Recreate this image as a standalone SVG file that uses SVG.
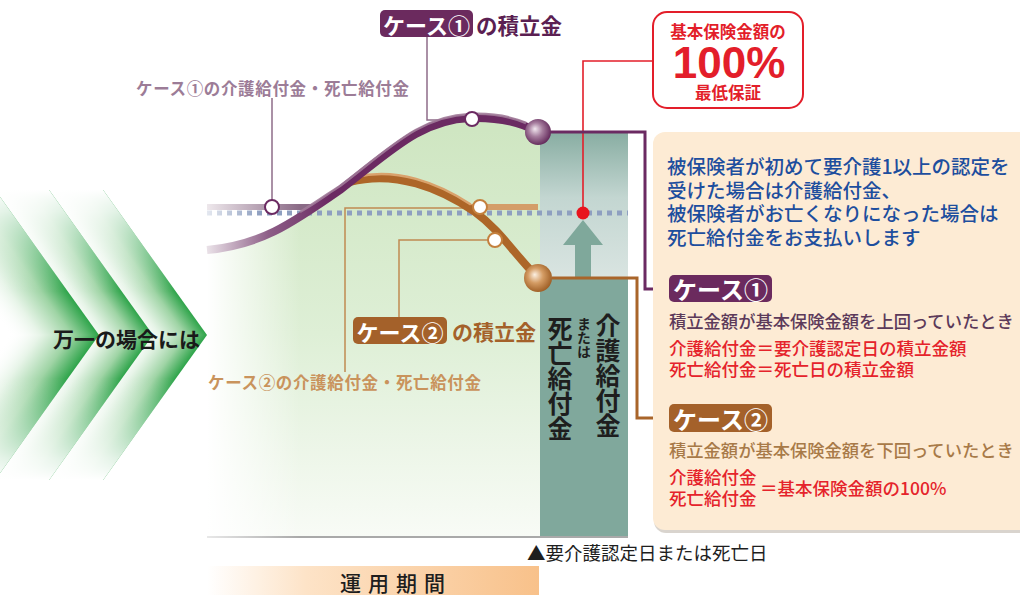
<svg xmlns="http://www.w3.org/2000/svg" width="1020" height="595" viewBox="0 0 1020 595">
<defs>
<style>
.jp{font-family:"Noto Sans CJK JP","Noto Sans",sans-serif;}
.b{font-weight:700;}
.m{font-weight:500;}
.c{dominant-baseline:central;}
.thinP{fill:none;stroke:#8e6c89;stroke-width:1.5;}
.thinO{fill:none;stroke:#c08b52;stroke-width:1.5;}
.wcP{fill:#fff;stroke:#6b2a62;stroke-width:2;}
.wcO{fill:#fff;stroke:#c4803e;stroke-width:2;}
</style>
<linearGradient id="chev" x1="0" y1="0" x2="1" y2="0">
<stop offset="0" stop-color="#ffffff" stop-opacity="0"/>
<stop offset="0.35" stop-color="#e4f3e5" stop-opacity="0.9"/>
<stop offset="0.7" stop-color="#9fd4a5"/>
<stop offset="1" stop-color="#2ea44a"/>
</linearGradient>
<linearGradient id="fadeUp" x1="0" y1="0" x2="0" y2="1">
<stop offset="0" stop-color="#ffffff" stop-opacity="1"/>
<stop offset="0.15" stop-color="#ffffff" stop-opacity="0.85"/>
<stop offset="0.7" stop-color="#ffffff" stop-opacity="0"/>
<stop offset="1" stop-color="#ffffff" stop-opacity="0"/>
</linearGradient>
<linearGradient id="fadeDown" x1="0" y1="0" x2="0" y2="1">
<stop offset="0" stop-color="#ffffff" stop-opacity="0"/>
<stop offset="0.3" stop-color="#ffffff" stop-opacity="0"/>
<stop offset="0.85" stop-color="#ffffff" stop-opacity="0.85"/>
<stop offset="1" stop-color="#ffffff" stop-opacity="1"/>
</linearGradient>
<linearGradient id="bgGreen" gradientUnits="userSpaceOnUse" x1="0" y1="130" x2="0" y2="537">
<stop offset="0" stop-color="#cfe6c2"/>
<stop offset="0.5" stop-color="#deefd6"/>
<stop offset="1" stop-color="#f8fbf6"/>
</linearGradient>
<linearGradient id="leftFade" gradientUnits="userSpaceOnUse" x1="207" y1="0" x2="300" y2="0">
<stop offset="0" stop-color="#fff" stop-opacity="1"/>
<stop offset="1" stop-color="#fff" stop-opacity="0"/>
</linearGradient>
<linearGradient id="tealTop" x1="0" y1="0" x2="0" y2="1">
<stop offset="0" stop-color="#88ada2"/>
<stop offset="0.45" stop-color="#c3d6d1"/>
<stop offset="1" stop-color="#d9e4e1"/>
</linearGradient>
<linearGradient id="purpStroke" gradientUnits="userSpaceOnUse" x1="207" y1="0" x2="330" y2="0">
<stop offset="0" stop-color="#eae2e8"/>
<stop offset="0.5" stop-color="#8d5e87"/>
<stop offset="1" stop-color="#6b2a62"/>
</linearGradient>
<linearGradient id="purpFlat" gradientUnits="userSpaceOnUse" x1="207" y1="0" x2="300" y2="0">
<stop offset="0" stop-color="#eee8ec"/>
<stop offset="1" stop-color="#8a6a86"/>
</linearGradient>
<linearGradient id="dashFade" gradientUnits="userSpaceOnUse" x1="207" y1="0" x2="260" y2="0">
<stop offset="0" stop-color="#e4e8f0"/>
<stop offset="1" stop-color="#8e9fc0"/>
</linearGradient>
<linearGradient id="baseFade" gradientUnits="userSpaceOnUse" x1="207" y1="0" x2="300" y2="0">
<stop offset="0" stop-color="#e8e8e8"/>
<stop offset="1" stop-color="#a9a9a9"/>
</linearGradient>
<linearGradient id="band" gradientUnits="userSpaceOnUse" x1="207" y1="0" x2="539" y2="0">
<stop offset="0" stop-color="#ffffff"/>
<stop offset="0.3" stop-color="#fde3c7"/>
<stop offset="1" stop-color="#f8c18a"/>
</linearGradient>
<radialGradient id="ballP" cx="0.45" cy="0.45" r="0.6" fx="0.38" fy="0.38">
<stop offset="0" stop-color="#f2e8f0"/>
<stop offset="0.45" stop-color="#a57c9d"/>
<stop offset="1" stop-color="#5c2154"/>
</radialGradient>
<radialGradient id="ballO" cx="0.45" cy="0.45" r="0.6" fx="0.38" fy="0.38">
<stop offset="0" stop-color="#fcf0e2"/>
<stop offset="0.45" stop-color="#d49c64"/>
<stop offset="1" stop-color="#99581f"/>
</radialGradient>
<marker id="arrP" markerUnits="userSpaceOnUse" markerWidth="12" markerHeight="12" refX="11" refY="6" orient="auto">
<path d="M0,0 L12,6 L0,12 Z" fill="#6b2a62"/>
</marker>
<marker id="arrO" markerUnits="userSpaceOnUse" markerWidth="12" markerHeight="12" refX="11" refY="6" orient="auto">
<path d="M0,0 L12,6 L0,12 Z" fill="#a9652a"/>
</marker>
</defs>

<rect width="1020" height="595" fill="#fff"/>

<!-- chevrons -->
<g id="chevrons">
<g transform="translate(207,335) skewX(35.6)">
<rect x="-72" y="-145" width="72" height="145" fill="url(#chev)"/>
<rect x="-72" y="-145" width="72" height="145" fill="url(#fadeUp)"/>
</g>
<g transform="translate(207,335) skewX(-35.6)">
<rect x="-72" y="0" width="72" height="145" fill="url(#chev)"/>
<rect x="-72" y="0" width="72" height="145" fill="url(#fadeDown)"/>
</g>
<g transform="translate(153,335) skewX(35.6)">
<rect x="-72" y="-145" width="72" height="145" fill="url(#chev)"/>
<rect x="-72" y="-145" width="72" height="145" fill="url(#fadeUp)"/>
</g>
<g transform="translate(153,335) skewX(-35.6)">
<rect x="-72" y="0" width="72" height="145" fill="url(#chev)"/>
<rect x="-72" y="0" width="72" height="145" fill="url(#fadeDown)"/>
</g>
<g transform="translate(99,335) skewX(35.6)">
<rect x="-90" y="-145" width="90" height="145" fill="url(#chev)"/>
<rect x="-90" y="-145" width="90" height="145" fill="url(#fadeUp)"/>
</g>
<g transform="translate(99,335) skewX(-35.6)">
<rect x="-90" y="0" width="90" height="145" fill="url(#chev)"/>
<rect x="-90" y="0" width="90" height="145" fill="url(#fadeDown)"/>
</g>
</g>
<g id="lead-label"><text class="jp b c" x="53" y="338" font-size="21" fill="#1a1a1a">万一の場合には</text></g>

<!-- chart background -->
<g id="chart-bg">
<path d="M207,250 C260,245 290,225 340,190 C390,152 420,120 470,118 C500,117 520,122 538,132 L540,132 L540,537 L207,537 Z" fill="url(#bgGreen)"/>
<rect x="207" y="180" width="100" height="360" fill="url(#leftFade)"/>
<rect x="540" y="132" width="88" height="146" fill="url(#tealTop)"/>
<rect x="540" y="278" width="88" height="259" fill="#80a89c"/>
<line x1="207" y1="537" x2="628" y2="537" stroke="url(#baseFade)" stroke-width="2"/>
<path d="M575,280 V245 H563 L583,220 L603,245 H591 V280 Z" fill="#7fa89b"/>
</g>

<!-- connectors -->
<g id="connectors">
<path class="thinP" d="M272,98 V200"/>
<path class="thinP" d="M427,36 V120 H462"/>
<path class="thinO" d="M345,372 V208 H470"/>
<path class="thinO" d="M399,318 V240 H488"/>
<path d="M583,213 V61 H653" fill="none" stroke="#e31e2a" stroke-width="1.6"/>
<path d="M550,132 H645 V289 H666" fill="none" stroke="#6b2a62" stroke-width="3" marker-end="url(#arrP)"/>
<path d="M552,278 H637 V418 H666" fill="none" stroke="#a9652a" stroke-width="3" marker-end="url(#arrO)"/>
</g>

<!-- guarantee dashed line -->
<line x1="207" y1="213" x2="628" y2="213" stroke="url(#dashFade)" stroke-width="5" stroke-dasharray="5 5"/>

<!-- flat benefit lines -->
<line x1="207" y1="207" x2="312" y2="207" stroke="url(#purpFlat)" stroke-width="6"/>
<line x1="466" y1="207" x2="538" y2="207" stroke="#d49d68" stroke-width="6"/>

<!-- case 2 curve -->
<g id="curve2">
<path d="M350,182 C395,170 440,188 475,212 C500,230 515,255 538,278" fill="none" stroke="#ad6628" stroke-width="8"/>
<path d="M356,177 C396,167 438,183 470,204" fill="none" stroke="#d9a26c" stroke-width="2.5" stroke-linecap="round"/>
</g>

<!-- case 1 curve -->
<g id="curve1">
<path d="M207,250 C260,245 290,225 340,190 C390,152 420,120 470,118 C500,117 520,122 538,132" fill="none" stroke="url(#purpStroke)" stroke-width="8"/>
<path d="M300,212 C320,200 330,192 340,186 C390,148 420,116 470,114 C495,113 512,117 526,123" fill="none" stroke="#a17b99" stroke-width="2.5" opacity="0.9"/>
</g>

<!-- points -->
<g id="points">
<circle class="wcP" cx="272" cy="207" r="7"/>
<circle class="wcP" cx="472" cy="119" r="7"/>
<circle class="wcO" cx="480" cy="207" r="7"/>
<circle class="wcO" cx="495" cy="240" r="7"/>
<circle cx="538" cy="132" r="13" fill="url(#ballP)"/>
<circle cx="538" cy="278" r="14" fill="url(#ballO)"/>
<circle cx="583" cy="213" r="6.5" fill="#e8141e"/>
</g>

<!-- labels on chart -->
<g id="label-case1-top">
<rect x="380" y="10" width="93" height="27" rx="5" fill="#6b2a5e"/>
<text class="jp b c" x="426.5" y="23.5" font-size="22" fill="#fff" text-anchor="middle">ケース①</text>
<text class="jp b c" x="476" y="24" font-size="21.5" fill="#5b1f52">の積立金</text>
</g>
<g id="label-case1-benefit">
<text class="jp b c" x="136" y="88" font-size="16.5" fill="#9c7c97" textLength="273" lengthAdjust="spacing">ケース①の介護給付金・死亡給付金</text>
</g>
<g id="label-case2-reserve">
<rect x="353" y="317" width="94" height="27" rx="5" fill="#a4612a"/>
<text class="jp b c" x="400" y="330.5" font-size="22" fill="#fff" text-anchor="middle">ケース②</text>
<text class="jp b c" x="452" y="331" font-size="21" fill="#a4612a">の積立金</text>
</g>
<g id="label-case2-benefit">
<text class="jp b c" x="208" y="382" font-size="16.5" fill="#c9935c" textLength="273" lengthAdjust="spacing">ケース②の介護給付金・死亡給付金</text>
</g>
<g id="label-column">
<text class="jp b" x="608" y="313" font-size="25" fill="#1e1e1e" writing-mode="vertical-rl">介護給付金</text>
<text class="jp b" x="584" y="317" font-size="14" fill="#1e1e1e" writing-mode="vertical-rl">または</text>
<text class="jp b" x="560" y="316" font-size="25" fill="#1e1e1e" writing-mode="vertical-rl">死亡給付金</text>
</g>

<!-- guarantee box -->
<g id="guarantee-box">
<rect x="653" y="12" width="150" height="96" rx="14" fill="#fff" stroke="#e31e2a" stroke-width="2"/>
<text class="jp b c" x="728" y="31" font-size="16.5" fill="#e31e2a" text-anchor="middle">基本保険金額の</text>
<text x="729" y="78" font-family="'Liberation Sans',Arial,sans-serif" font-weight="700" font-size="44" fill="#e31e2a" text-anchor="middle">100%</text>
<text class="jp b c" x="728" y="92" font-size="16.5" fill="#e31e2a" text-anchor="middle">最低保証</text>
</g>

<!-- explanation panel -->
<g id="panel">
<rect x="654" y="135" width="380" height="398" rx="12" fill="#d9d4ce"/>
<rect x="653" y="132" width="380" height="398" rx="12" fill="#fdebd4"/>
<text class="jp m c" font-size="19.5" fill="#1d4e9e">
<tspan x="667" y="165">被保険者が初めて要介護1以上の認定を</tspan>
<tspan x="667" y="189">受けた場合は介護給付金、</tspan>
<tspan x="667" y="212">被保険者がお亡くなりになった場合は</tspan>
<tspan x="667" y="236">死亡給付金をお支払いします</tspan>
</text>
</g>
<g id="case1">
<rect x="669" y="275" width="103" height="27" rx="5" fill="#6b2a5e"/>
<text class="jp b c" x="720.5" y="288.5" font-size="24" fill="#fff" text-anchor="middle">ケース①</text>
<text class="jp m c" x="669" y="320" font-size="17.3" fill="#5c3a5a">積立金額が基本保険金額を上回っていたとき</text>
<text class="jp m c" font-size="17.5" fill="#e5232b">
<tspan x="669" y="347">介護給付金＝要介護認定日の積立金額</tspan>
<tspan x="669" y="368">死亡給付金＝死亡日の積立金額</tspan>
</text>
</g>
<g id="case2">
<rect x="669" y="404" width="103" height="28" rx="5" fill="#a4612a"/>
<text class="jp b c" x="720.5" y="418" font-size="24" fill="#fff" text-anchor="middle">ケース②</text>
<text class="jp m c" x="669" y="449" font-size="17.3" fill="#a87a48">積立金額が基本保険金額を下回っていたとき</text>
<text class="jp m c" font-size="17.5" fill="#e5232b">
<tspan x="669" y="476">介護給付金</tspan>
<tspan x="669" y="497">死亡給付金</tspan>
</text>
<text class="jp m c" x="760" y="487" font-size="17.5" fill="#e5232b">＝基本保険金額の100%</text>
</g>

<!-- bottom -->
<g id="event-label">
<text class="jp c" x="527" y="552" font-size="18.5" fill="#1e1e1e">▲要介護認定日または死亡日</text>
</g>
<g id="period-band">
<rect x="207" y="566" width="332" height="29" fill="url(#band)"/>
<text class="jp m c" x="340" y="582" font-size="21" fill="#1e1e1e" letter-spacing="7">運用期間</text>
</g>
</svg>
